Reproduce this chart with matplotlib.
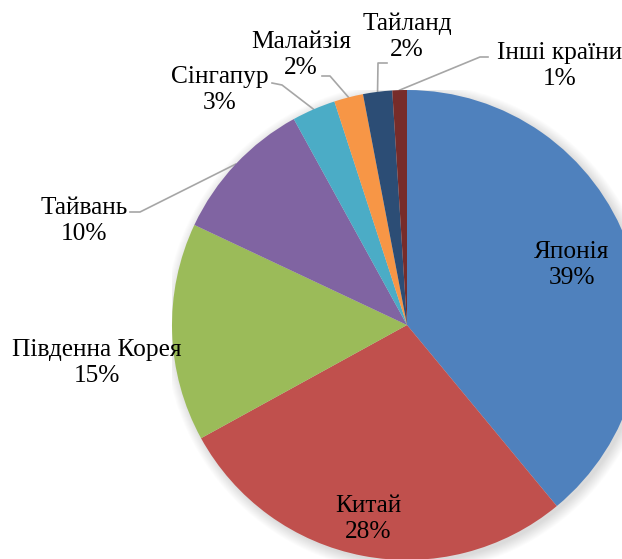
import numpy as np
import matplotlib.pyplot as plt
from matplotlib.patches import Circle

countries = ['Японія', 'Китай', 'Південна Корея', 'Тайвань',
             'Сінгапур', 'Малайзія', 'Тайланд', 'Інші країни']
shares = [39, 28, 15, 10, 3, 2, 2, 1]
colors = ['#4F81BD', '#C0504D', '#9BBB59', '#8064A2',
          '#4BACC6', '#F79646', '#2C4D75', '#772C2A']

plt.rcParams['font.family'] = ['Liberation Serif', 'DejaVu Serif']

W, H = 622, 559
cx, cy, R = 407, 325, 235

def px(x, y):
    # pixel position -> data coords of the pie axes
    return (x - cx) / R, (cy - y) / R

fig = plt.figure(figsize=(W / 100, H / 100), dpi=100)
ax = fig.add_axes([(cx - R) / W, (H - cy - R) / H, 2 * R / W, 2 * R / H])

# soft shadow
for i in range(12):
    ax.add_patch(Circle((0.012, -0.012), 1.0 + 0.004 * i, color='black',
                        alpha=0.012, lw=0, zorder=0))

wedges, _ = ax.pie(shares, colors=colors, startangle=90, counterclock=False,
                   radius=1.0, wedgeprops=dict(linewidth=0))
for w in wedges:
    w.set_zorder(2)
ax.set_xlim(-1, 1)
ax.set_ylim(-1, 1)
ax.set_aspect('equal')
ax.axis('off')

# label centres (pixels) and leader line elbows (pixels)
label_pos = [(572, 265), (368, 519), (97, 363), (84, 221),
             (220, 90), (301, 55), (407, 37), (560, 66)]
leaders = [None, None, None,
           [(130, 212), (140, 212)],
           [(272, 83), (282, 85)],
           [(322, 76), (330, 76)],
           [(387, 63), (378, 63)],
           [(488, 57), (480, 57)]]

start = 90.0
for name, val, pos, lead in zip(countries, shares, label_pos, leaders):
    ang = start - val * 3.6 / 2
    start -= val * 3.6
    x, y = px(*pos)
    ax.text(x, y, f'{name}\n{val}%', ha='center', va='center', fontsize=18.3,
            linespacing=1.25, color='black', zorder=5, clip_on=False)
    if lead:
        ex, ey = np.cos(np.radians(ang)), np.sin(np.radians(ang))
        pts = [px(*p) for p in lead] + [(ex, ey)]
        ax.plot([p[0] for p in pts], [p[1] for p in pts], color='#A6A6A6',
                lw=1.2, zorder=1, clip_on=False)

fig.savefig('out.png', dpi=100)
